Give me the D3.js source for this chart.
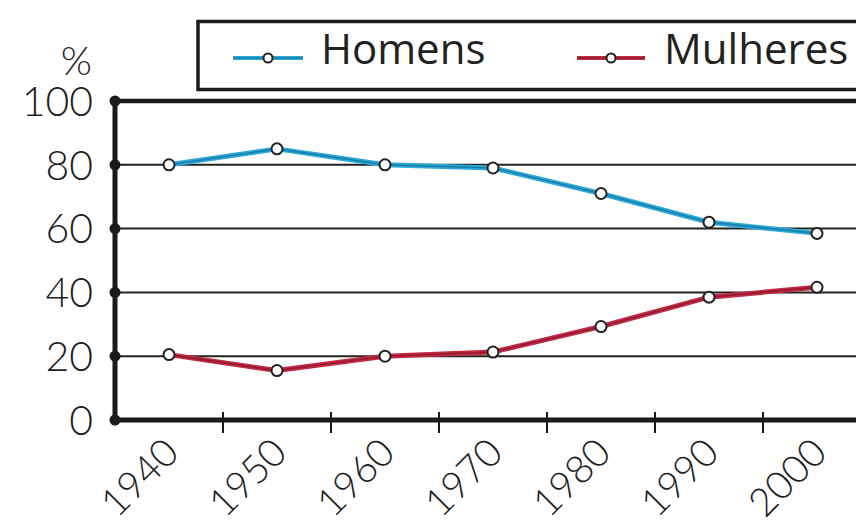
<!DOCTYPE html>
<html>
<head>
<meta charset="utf-8">
<script src="https://cdn.jsdelivr.net/npm/d3@7"></script>
<style>
  html, body { margin: 0; padding: 0; background: #fff; }
  svg { display: block; }
</style>
</head>
<body>
<svg id="chart" width="856" height="526"></svg>
<script>
// Participação na população economicamente ativa, por sexo (%)
const years = [1940, 1950, 1960, 1970, 1980, 1990, 2000];
const homens = [80, 85, 80, 79, 71, 62, 58.5];
const mulheres = [20.5, 15.5, 20, 21.3, 29.3, 38.5, 41.6];
const yTicks = [0, 20, 40, 60, 80, 100];
const seriesNames = ["Homens", "Mulheres"];
const seriesColors = ["#2aa9d9", "#c22a45"];
const seriesCores = ["#176c93", "#7d1426"];

const svg = d3.select("#chart");
const plotLeft = 115, plotTop = 101, plotBottom = 420, bandW = 108;

const x = d3.scaleBand().domain(years).range([plotLeft, plotLeft + bandW * years.length]).padding(0);
const y = d3.scaleLinear().domain([0, 100]).range([plotBottom, plotTop]);
const cx = d => x(d) + x.bandwidth() / 2;

const axisFont = "Lato, 'Open Sans', sans-serif";
const axisWeight = 300;
const axisInk = "#1f1f1f";

// horizontal grid lines
svg.append("g").selectAll("line")
  .data(yTicks.filter(t => t > 0 && t < 100))
  .join("line")
  .attr("x1", plotLeft).attr("x2", 856)
  .attr("y1", d => y(d)).attr("y2", d => y(d))
  .attr("stroke", "#222").attr("stroke-width", 2);

// top frame line
svg.append("line")
  .attr("x1", plotLeft).attr("x2", 856)
  .attr("y1", y(100)).attr("y2", y(100))
  .attr("stroke", "#1a1a1a").attr("stroke-width", 4.5);

// x axis baseline and ticks
svg.append("line")
  .attr("x1", plotLeft).attr("x2", 856)
  .attr("y1", y(0)).attr("y2", y(0))
  .attr("stroke", "#1a1a1a").attr("stroke-width", 5);

svg.append("g").selectAll("line")
  .data(years.slice(1))
  .join("line")
  .attr("x1", d => x(d)).attr("x2", d => x(d))
  .attr("y1", y(0) - 8).attr("y2", y(0) + 13)
  .attr("stroke", "#1a1a1a").attr("stroke-width", 2);

// y axis
svg.append("line")
  .attr("x1", plotLeft).attr("x2", plotLeft)
  .attr("y1", y(100)).attr("y2", y(0))
  .attr("stroke", "#1a1a1a").attr("stroke-width", 5);

svg.append("g").selectAll("circle")
  .data(yTicks)
  .join("circle")
  .attr("cx", plotLeft).attr("cy", d => y(d)).attr("r", 5.5)
  .attr("fill", "#1a1a1a");

// y tick labels
svg.append("g").selectAll("text")
  .data(yTicks)
  .join("text")
  .attr("x", 93).attr("y", d => y(d))
  .attr("dy", "0.36em")
  .attr("text-anchor", "end")
  .attr("font-family", axisFont).attr("font-size", 41)
  .attr("font-weight", axisWeight)
  .attr("fill", axisInk)
  .text(d => d);

svg.append("text")
  .attr("x", 92).attr("y", 75)
  .attr("text-anchor", "end")
  .attr("font-family", axisFont).attr("font-size", 40)
  .attr("font-weight", axisWeight)
  .attr("fill", axisInk)
  .text("%");

// x tick labels, rotated
svg.append("g").selectAll("text")
  .data(years)
  .join("text")
  .attr("transform", d => `translate(${cx(d) + 12},${455}) rotate(-45)`)
  .attr("text-anchor", "end")
  .attr("font-family", axisFont).attr("font-size", 39)
  .attr("font-weight", axisWeight)
  .attr("fill", axisInk)
  .text(d => d);

// series lines
const series = [homens, mulheres];
const line = d3.line().x((d, i) => cx(years[i])).y(d => y(d));

series.forEach((vals, s) => {
  const g = svg.append("g");
  g.append("path").datum(vals)
    .attr("d", line).attr("fill", "none")
    .attr("stroke", seriesColors[s]).attr("stroke-width", 5)
    .attr("stroke-linejoin", "round");
  g.append("path").datum(vals)
    .attr("d", line).attr("fill", "none")
    .attr("stroke", seriesCores[s]).attr("stroke-width", 1.6)
    .attr("stroke-opacity", 0.7)
    .attr("stroke-linejoin", "round");
  g.selectAll("circle").data(vals).join("circle")
    .attr("cx", (d, i) => cx(years[i])).attr("cy", d => y(d))
    .attr("r", 5.5)
    .attr("fill", "#fff").attr("stroke", "#222").attr("stroke-width", 2);
});

// legend box
const legend = svg.append("g");
legend.append("rect")
  .attr("x", 198).attr("y", 21.5).attr("width", 700).attr("height", 68)
  .attr("fill", "#fff").attr("stroke", "#1a1a1a").attr("stroke-width", 3.5);

const legendItems = [
  { x1: 233, x2: 303, tx: 321 },
  { x1: 577, x2: 645, tx: 664 }
];
legendItems.forEach((it, s) => {
  const ly = 58;
  legend.append("line")
    .attr("x1", it.x1).attr("x2", it.x2).attr("y1", ly).attr("y2", ly)
    .attr("stroke", seriesColors[s]).attr("stroke-width", 4);
  legend.append("line")
    .attr("x1", it.x1).attr("x2", it.x2).attr("y1", ly).attr("y2", ly)
    .attr("stroke", seriesCores[s]).attr("stroke-width", 1.4).attr("stroke-opacity", 0.7);
  legend.append("circle")
    .attr("cx", (it.x1 + it.x2) / 2).attr("cy", ly).attr("r", 4.5)
    .attr("fill", "#fff").attr("stroke", "#222").attr("stroke-width", 2);
  legend.append("text")
    .attr("x", it.tx).attr("y", 64)
    .attr("font-family", "'Open Sans', sans-serif").attr("font-size", 42)
    .attr("fill", "#222")
    .text(seriesNames[s]);
});
</script>
</body>
</html>
